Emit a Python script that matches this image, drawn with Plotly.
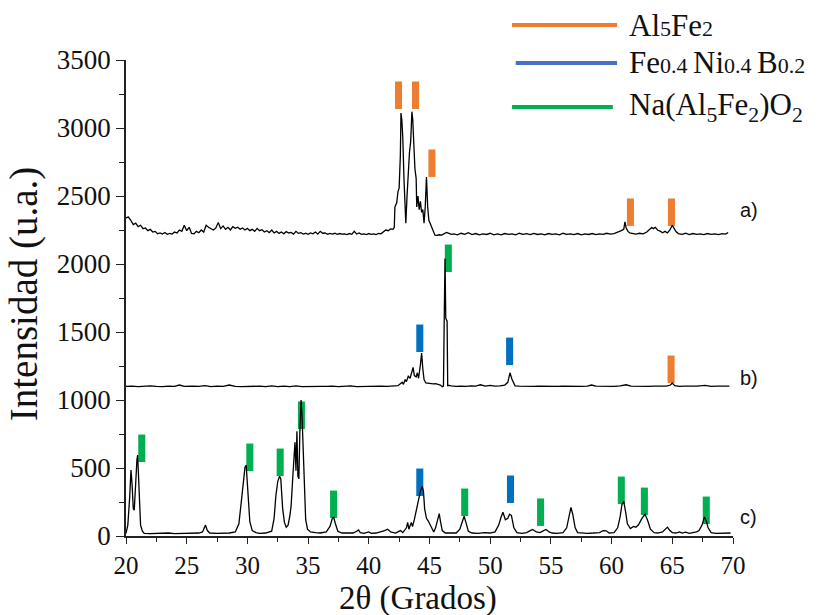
import plotly.graph_objects as go

# ---------------- data ----------------
# trace a) (offset ~2200)
xa = [20.0, 20.2, 20.4, 20.6, 20.8, 21.0, 21.2, 21.4, 21.6, 21.8, 22.0, 22.2, 22.4, 22.6, 22.8,
      23.0, 23.2, 23.4, 23.6, 23.8, 24.0, 24.2, 24.4, 24.6, 24.8, 25.0, 25.2, 25.4, 25.6, 25.8,
      26.0, 26.2, 26.4, 26.6, 26.8, 27.0, 27.2, 27.4, 27.6, 27.8, 28.0, 28.2, 28.4, 28.6, 28.8,
      29.0, 29.2, 29.4, 29.6, 29.8, 30.0, 30.2, 30.4, 30.6, 30.8, 31.0, 31.2, 31.4, 31.6, 31.8,
      32.0, 32.2, 32.4, 32.6, 32.8, 33.0, 33.2, 33.4, 33.6, 33.8, 34.0, 34.2, 34.4, 34.6, 34.8,
      35.0, 35.2, 35.4, 35.6, 35.8, 36.0, 36.2, 36.4, 36.6, 36.8, 37.0, 37.2, 37.4, 37.6, 37.8,
      38.0, 38.2, 38.4, 38.6, 38.8, 39.0, 39.2, 39.4, 39.6, 39.8, 40.0, 40.2, 40.4, 40.6, 40.8,
      41.0, 41.2, 41.4, 41.6, 41.8, 42.0, 42.1, 42.15, 42.3, 42.4, 42.5, 42.6, 42.65, 42.72, 42.8,
      42.9, 43.0, 43.05, 43.15, 43.25, 43.35, 43.45, 43.55, 43.62, 43.7, 43.8, 43.9, 43.95, 44.05,
      44.15, 44.25, 44.35, 44.45, 44.55, 44.65, 44.75, 44.85, 44.95, 45.05, 45.15, 45.3, 45.45,
      45.6, 45.8, 46.0, 46.2, 46.4, 46.6, 46.8, 47.0, 47.3, 47.6, 47.9, 48.2, 48.5, 48.8, 49.1,
      49.4, 49.7, 50.0, 50.3, 50.6, 50.9, 51.2, 51.5, 51.8, 52.1, 52.4, 52.7, 53.0, 53.3, 53.6,
      53.9, 54.2, 54.5, 54.8, 55.1, 55.4, 55.7, 56.0, 56.3, 56.6, 56.9, 57.2, 57.5, 57.8, 58.1,
      58.4, 58.7, 59.0, 59.3, 59.6, 59.9, 60.2, 60.5, 60.8, 61.0, 61.1, 61.2, 61.35, 61.5, 61.7,
      62.0, 62.3, 62.6, 62.9, 63.1, 63.3, 63.45, 63.6, 63.8, 64.0, 64.2, 64.4, 64.6, 64.8, 65.0,
      65.1, 65.3, 65.5, 65.8, 66.1, 66.4, 66.7, 67.0, 67.3, 67.6, 67.9, 68.2, 68.5, 68.8, 69.1,
      69.4, 69.6]
ya = [2340, 2345, 2320, 2290, 2300, 2275, 2285, 2260, 2265, 2245, 2255, 2235, 2240, 2222, 2228,
      2220, 2232, 2218, 2225, 2220, 2235, 2228, 2250, 2240, 2285, 2245, 2270, 2225, 2222, 2240,
      2230, 2250, 2235, 2285, 2270, 2262, 2250, 2265, 2305, 2260, 2280, 2255, 2270, 2250, 2275,
      2262, 2270, 2255, 2265, 2250, 2262, 2245, 2255, 2240, 2262, 2245, 2252, 2235, 2245, 2230,
      2250, 2228, 2240, 2225, 2235, 2222, 2238, 2228, 2232, 2220, 2240, 2225, 2230, 2220, 2226,
      2218, 2228, 2222, 2235, 2220, 2240, 2226, 2228, 2218, 2225, 2220, 2226, 2218, 2224, 2220,
      2222, 2216, 2224, 2218, 2240, 2220, 2228, 2218, 2222, 2216, 2224, 2218, 2222, 2216, 2225,
      2222, 2235, 2250, 2245, 2258, 2255, 2270, 2420, 2450, 2530, 2560, 2800, 3110, 3060, 2930,
      2620, 2420, 2300, 2500, 2700, 2820, 2900, 3120, 3060, 2900, 2700, 2630, 2420, 2500,
      2400, 2460, 2380, 2400, 2300, 2420, 2640, 2420, 2320, 2300, 2275, 2240, 2212,
      2210, 2215, 2212, 2222, 2232, 2225, 2218, 2222, 2215, 2226, 2218, 2230, 2216, 2224, 2214,
      2222, 2217, 2226, 2215, 2221, 2214, 2224, 2218, 2222, 2215, 2226, 2218, 2223, 2216, 2225,
      2217, 2222, 2214, 2224, 2218, 2221, 2215, 2226, 2218, 2222, 2216, 2224, 2215, 2221, 2217,
      2224, 2216, 2222, 2218, 2226, 2220, 2224, 2232, 2245, 2255, 2310, 2265, 2240, 2228, 2224,
      2220, 2226, 2222, 2235, 2250, 2268, 2260, 2270, 2248, 2242, 2230, 2240, 2228, 2250, 2285,
      2268, 2238, 2224, 2218, 2226, 2216, 2224, 2218, 2222, 2216, 2224, 2218, 2221, 2216, 2224,
      2220, 2232]

# trace b) (offset ~1100)
xb = [20.0, 20.5, 21.0, 21.5, 22.0, 22.5, 23.0, 23.5, 24.0, 24.4, 24.8, 25.5, 26.0, 26.5, 27.0,
      27.5, 28.0, 28.5, 29.0, 29.5, 30.0, 30.5, 31.0, 31.5, 32.0, 32.5, 33.0, 33.5, 34.0, 34.5,
      35.0, 35.5, 36.0, 36.5, 37.0, 37.5, 38.0, 38.5, 39.0, 39.5, 40.0, 40.5, 41.0, 41.5, 42.0,
      42.4, 42.6, 42.75, 42.85, 43.0, 43.1, 43.25, 43.4, 43.55, 43.65, 43.75, 43.9, 44.0, 44.1,
      44.25, 44.35, 44.45, 44.55, 44.7, 44.9, 45.1, 45.3, 45.5, 45.7, 45.9, 46.05, 46.15, 46.22,
      46.28, 46.34, 46.4, 46.45, 46.5, 46.6, 46.8, 47.2, 47.6, 48.0, 48.4, 48.8, 49.2, 49.6,
      50.0, 50.4, 50.8, 51.2, 51.45, 51.63, 51.8, 52.05, 52.4, 52.8, 53.2, 53.6, 54.0, 54.5,
      55.0, 55.5, 56.0, 56.5, 57.0, 57.5, 58.0, 58.35, 58.7, 59.2, 59.7, 60.2, 60.7, 61.2,
      61.6, 62.0, 62.5, 63.0, 63.5, 64.0, 64.5, 64.85, 65.0, 65.2, 65.6, 66.0, 66.5, 67.0,
      67.7, 68.2, 68.7, 69.2, 69.7]
yb = [1100, 1102, 1098, 1100, 1104, 1100, 1098, 1102, 1100, 1110, 1100, 1102, 1100, 1106, 1098,
      1102, 1100, 1110, 1100, 1098, 1100, 1100, 1102, 1098, 1104, 1098, 1102, 1098, 1104, 1098,
      1100, 1100, 1100, 1100, 1102, 1098, 1100, 1104, 1098, 1100, 1100, 1100, 1102, 1100, 1102,
      1105, 1120, 1130, 1115, 1150, 1135, 1175, 1160, 1200, 1240, 1180, 1170, 1200, 1160,
      1260, 1345, 1230, 1150, 1125, 1122, 1120, 1118, 1120, 1116, 1110, 1098, 1102, 1650,
      2040, 1600, 1590, 1580, 1105, 1108, 1104, 1100, 1102, 1100, 1104, 1102, 1112, 1102,
      1108, 1102, 1104, 1110, 1130, 1200, 1150, 1104, 1102, 1100, 1102, 1100, 1102, 1100,
      1102, 1100, 1102, 1100, 1102, 1100, 1102, 1110, 1102, 1100, 1102, 1100, 1104, 1112,
      1102, 1100, 1102, 1100, 1102, 1100, 1102, 1110, 1125, 1106, 1100, 1102, 1100, 1102,
      1108, 1100, 1102, 1100, 1102]

# trace c) (no offset)
xc = [20.0, 20.15, 20.3, 20.41, 20.5, 20.6, 20.68, 20.8, 20.9, 20.96, 21.04, 21.12, 21.2, 21.35,
      21.5, 22.0, 22.5, 23.0, 23.5, 24.0, 24.5, 25.0, 25.5, 26.0, 26.3, 26.45, 26.55, 26.7, 26.9,
      27.5, 28.0, 28.5, 29.0, 29.3, 29.47, 29.65, 29.8, 29.9, 30.0, 30.1, 30.2, 30.4, 30.7, 31.0,
      31.5, 32.0, 32.2, 32.35, 32.5, 32.65, 32.75, 32.9, 33.05, 33.2, 33.35, 33.5, 33.6, 33.75,
      33.85, 33.92, 34.0, 34.08, 34.16, 34.24, 34.32, 34.42, 34.5, 34.58, 34.67, 34.8, 34.95,
      35.2, 35.6, 36.0, 36.5, 36.8, 37.0, 37.1, 37.25, 37.45, 37.8, 38.2, 38.7, 39.0, 39.15,
      39.3, 39.6, 40.0, 40.2, 40.6, 41.0, 41.3, 41.55, 41.8, 42.2, 42.6, 42.8, 43.1, 43.2, 43.3,
      43.5, 43.6, 43.75, 43.95, 44.1, 44.25, 44.4, 44.5, 44.6, 44.75, 44.9, 45.05, 45.2, 45.35,
      45.5, 45.7, 45.8, 45.9, 46.05, 46.3, 46.8, 47.2, 47.5, 47.7, 47.85, 48.0, 48.2, 48.5,
      49.0, 49.5, 50.0, 50.4, 50.7, 50.9, 51.05, 51.25, 51.45, 51.6, 51.75, 51.95, 52.2, 52.6,
      53.0, 53.3, 53.5, 53.8, 54.1, 54.4, 54.6, 54.85, 55.1, 55.5, 56.0, 56.3, 56.5, 56.65,
      56.8, 57.0, 57.2, 57.6, 58.0, 58.5, 59.0, 59.3, 59.55, 59.8, 60.2, 60.5, 60.7, 60.85,
      61.0, 61.15, 61.3, 61.55, 61.8, 62.0, 62.2, 62.5, 62.75, 62.95, 63.2, 63.5, 63.8, 64.2,
      64.45, 64.6, 64.8, 65.0, 65.3, 65.6, 65.8, 66.1, 66.4, 66.7, 67.0, 67.2, 67.45, 67.65,
      67.8, 67.95, 68.2, 68.6, 69.0, 69.5, 69.8]
yc = [20, 80, 280, 485, 380, 200, 190, 420, 560, 595, 390, 200, 80, 35,
      20, 18, 20, 18, 22, 18, 20, 18, 20, 22, 30, 65, 80, 40, 22,
      20, 20, 22, 30, 90, 230, 380, 505, 520, 350, 200, 105, 40, 25, 20,
      22, 35, 130, 300, 400, 440, 420, 205, 100, 65, 80, 150, 220, 450,
      660, 690, 480, 770, 440, 420, 760, 1000, 880, 700, 470, 120, 50,
      30, 25, 22, 30, 70, 130, 140, 90, 35, 22, 20, 22, 35, 45,
      25, 20, 30, 20, 22, 30, 40, 50, 30, 22, 40, 25, 60, 100, 50,
      100, 70, 120, 200, 280, 330, 365, 330, 200, 130, 110, 80, 50, 30,
      60, 140, 165, 110, 40, 22, 20, 22, 50, 110, 145, 100, 35, 22,
      20, 25, 22, 30, 80, 140, 175, 120, 130, 160, 150, 60, 25, 20,
      25, 40, 48, 30, 25, 40, 48, 30, 22, 20, 25, 60, 160, 210,
      160, 60, 25, 20, 20, 22, 25, 40, 38, 22, 25, 60, 140, 230,
      255, 180, 90, 55, 70, 65, 80, 130, 160, 120, 50, 25, 22, 30,
      55, 65, 40, 25, 22, 30, 22, 28, 20, 25, 30, 40, 80, 140,
      110, 60, 25, 20, 22, 20, 22]

# phase markers (position, base intensity)
al5fe2_x = [42.45, 43.85, 45.2, 61.55, 64.93, 64.9]
al5fe2_base = [3140, 3140, 2640, 2280, 2280, 1125]
feniB_x = [44.2, 51.6, 44.2, 51.67]
feniB_base = [1353, 1257, 294, 243]
naalfe_x = [46.55, 21.3, 30.2, 32.7, 34.45, 37.1, 47.9, 54.15, 60.8, 62.7, 67.8]
naalfe_base = [1941, 544, 478, 441, 787, 132, 147, 74, 235, 154, 88]
marker_height = 202

sample_labels = ["a)", "b)", "c)"]
sample_label_y = [2400, 1160, 140]

legend_names = ["Al<span style='font-size:22px'>5</span>Fe<span style='font-size:22px'>2</span>",
                "Fe<span style='font-size:22px'>0.4 </span>Ni<span style='font-size:22px'>0.4 </span>B<span style='font-size:22px'>0.2</span>",
                "Na(Al<sub>5</sub>Fe<sub>2</sub>)O<sub>2</sub>"]
legend_colors = ["#ED7D31", "#4472C4", "#00B050"]
marker_colors = ["#ED7D31", "#0070C0", "#00B050"]

x_title = "2θ (Grados)"
y_title = "Intensidad (u.a.)"

# ---------------- figure ----------------
fig = go.Figure()
for xs, ys in [(xa, ya), (xb, yb), (xc, yc)]:
    fig.add_trace(go.Scatter(x=xs, y=ys, mode="lines",
                             line=dict(color="black", width=1.3), showlegend=False,
                             hoverinfo="skip"))

for xs, bs, col in [(al5fe2_x, al5fe2_base, marker_colors[0]),
                    (feniB_x, feniB_base, marker_colors[1]),
                    (naalfe_x, naalfe_base, marker_colors[2])]:
    fig.add_trace(go.Bar(x=xs, y=[marker_height] * len(xs), base=bs, width=0.58,
                         marker=dict(color=col, line=dict(width=0)), showlegend=False))

serif = "Liberation Serif"

# manual legend
leg_y = [1.0735, 0.9937, 0.901]
leg_x0 = [0.636, 0.642, 0.636]
leg_x1 = [0.809, 0.809, 0.802]
for i in range(3):
    fig.add_shape(type="line", xref="paper", yref="paper",
                  x0=leg_x0[i], x1=leg_x1[i], y0=leg_y[i], y1=leg_y[i],
                  line=dict(color=legend_colors[i], width=4))
    fig.add_annotation(xref="paper", yref="paper", x=0.826, y=leg_y[i],
                       xanchor="left", yanchor="middle", showarrow=False,
                       text=legend_names[i],
                       font=dict(family=serif, size=31, color="#111"))

for lab, yy in zip(sample_labels, sample_label_y):
    fig.add_annotation(xref="paper", yref="y", x=1.008, y=yy, xanchor="left",
                       yanchor="middle", showarrow=False, text=lab,
                       font=dict(family="Liberation Sans", size=20, color="#111"))

# axis titles
fig.add_annotation(xref="paper", yref="paper", x=0.481, y=-0.131, xanchor="center",
                   yanchor="middle", showarrow=False, text=x_title,
                   font=dict(family=serif, size=33, color="#111"))
fig.add_annotation(xref="paper", yref="paper", x=-0.168, y=0.508, xanchor="center",
                   yanchor="middle", showarrow=False, text=y_title, textangle=-90,
                   font=dict(family=serif, size=39, color="#111"))

fig.update_layout(
    width=825, height=615,
    margin=dict(l=126, r=92, t=60, b=79, autoexpand=False),
    plot_bgcolor="white", paper_bgcolor="white",
    barmode="overlay", showlegend=False,
    font=dict(family=serif, color="#111"),
)
fig.update_xaxes(range=[20, 70], dtick=5, tick0=20, ticks="outside", ticklen=6, tickwidth=1.3,
                 tickcolor="#222", showline=True, linecolor="#222", linewidth=1.5,
                 showgrid=False, zeroline=False, automargin=False,
                 minor=dict(dtick=2.5, ticks="outside", ticklen=4, tickwidth=1.2, tickcolor="#222"),
                 tickfont=dict(family=serif, size=25, color="#111"))
fig.update_yaxes(range=[0, 3500], dtick=500, tick0=0, ticks="outside", ticklen=8, tickwidth=1.3,
                 tickcolor="#222", showline=True, linecolor="#222", linewidth=1.5,
                 showgrid=False, zeroline=False, automargin=False,
                 minor=dict(dtick=250, ticks="outside", ticklen=5, tickwidth=1.2, tickcolor="#222"),
                 tickfont=dict(family=serif, size=27, color="#111"))

fig.write_html("out.html")
